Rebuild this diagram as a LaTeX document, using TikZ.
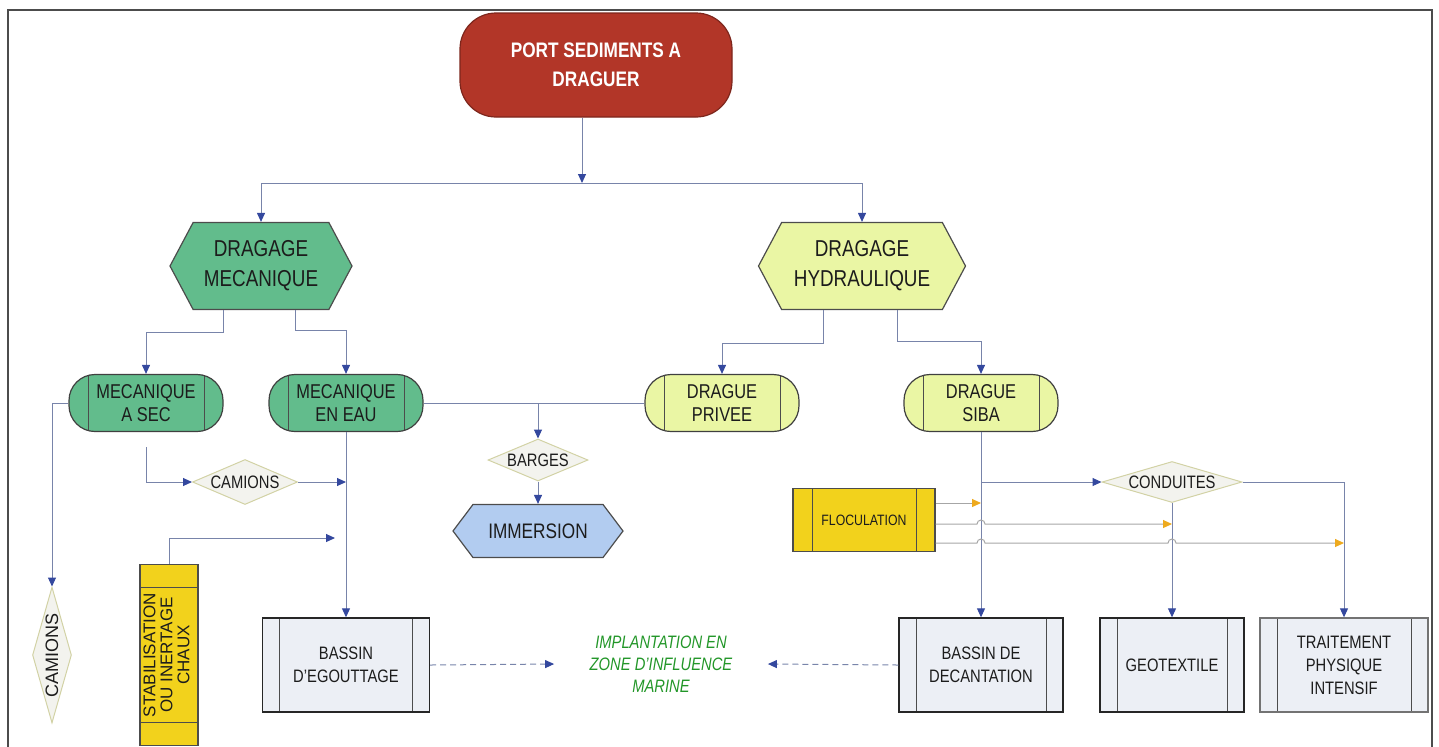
\documentclass[tikz,border=0pt]{standalone}
\usepackage{fontspec}
\setmainfont[FakeStretch=0.82]{Liberation Sans}
\newfontfamily\widesans{Liberation Sans}
\usetikzlibrary{arrows.meta,shapes.geometric,shapes.symbols}

\definecolor{portred}{RGB}{178,54,40}
\definecolor{mecgreen}{RGB}{98,188,140}
\definecolor{hydlime}{RGB}{234,246,164}
\definecolor{immblue}{RGB}{178,204,240}
\definecolor{flocyel}{RGB}{242,210,28}
\definecolor{bassgrey}{RGB}{236,239,245}
\definecolor{diafill}{RGB}{243,243,238}
\definecolor{diaedge}{RGB}{210,210,165}
\definecolor{linkblue}{RGB}{120,132,170}
\definecolor{headblue}{RGB}{52,72,158}
\definecolor{headorange}{RGB}{238,170,30}
\definecolor{marinegreen}{RGB}{34,150,40}
\definecolor{inkdark}{RGB}{28,28,28}

\begin{document}
\begin{tikzpicture}[x=0.5pt,y=-0.5pt,
  link/.style={draw=linkblue,line width=0.5pt},
  flow/.style={link,-{Triangle[length=4.5pt,width=4pt,color=headblue]}},
  flocflow/.style={draw=black!35,line width=0.5pt,-{Triangle[length=4.5pt,width=4pt,color=headorange]}},
  vbars/.style={path picture={\draw[black!70,line width=0.5pt]
      ([xshift=#1]path picture bounding box.north west) -- ([xshift=#1]path picture bounding box.south west)
      ([xshift=-#1]path picture bounding box.north east) -- ([xshift=-#1]path picture bounding box.south east);}},
  hbars/.style={path picture={\draw[black!70,line width=0.5pt]
      ([yshift=-#1]path picture bounding box.north west) -- ([yshift=-#1]path picture bounding box.north east)
      ([yshift=#1]path picture bounding box.south west) -- ([yshift=#1]path picture bounding box.south east);}},
  hexa/.style={signal,signal to=west and east,signal pointer angle=124,draw=black!70,line width=0.6pt,
    minimum height=43.5pt,inner sep=1pt,align=center,text=inkdark,font=\fontsize{11.5}{15}\selectfont},
  term/.style={rectangle,rounded corners=13pt,draw=black!75,line width=0.6pt,minimum width=77pt,
    minimum height=28.5pt,inner sep=1pt,align=center,text=inkdark,font=\fontsize{10}{11.7}\selectfont,vbars=9.5pt},
  bassin/.style={rectangle,draw=black!85,line width=0.7pt,fill=bassgrey,minimum height=47pt,inner sep=1pt,
    align=center,text=inkdark,font=\fontsize{9}{11.5}\selectfont,vbars=8.5pt},
  dia/.style={diamond,draw=diaedge,fill=diafill,line width=0.5pt,inner sep=0pt,text=inkdark,
    font=\fontsize{9}{11}\selectfont},
  yellowbox/.style={rectangle,draw=black!70,line width=0.6pt,fill=flocyel,inner sep=1pt,text=inkdark}]

  \useasboundingbox (0,0) rectangle (1439,746);
  \draw[black!70,line width=1pt] (8,760) -- (8,10) -- (1432,10) -- (1432,760);

  \node[rectangle,rounded corners=18pt,draw=portred!70!black,fill=portred,line width=0.6pt,
    minimum width=136pt,minimum height=52pt,text=white,align=center,
    font=\bfseries\fontsize{10.5}{14.5}\selectfont] (port) at (596,65) {PORT SEDIMENTS A\\DRAGUER};

  \node[hexa,fill=mecgreen,minimum width=91pt] (dmec) at (261,266) {DRAGAGE\\MECANIQUE};
  \node[hexa,fill=hydlime,minimum width=103.5pt] (dhyd) at (862,266) {DRAGAGE\\HYDRAULIQUE};

  \node[term,fill=mecgreen] (asec) at (146,403) {MECANIQUE\\A SEC};
  \node[term,fill=mecgreen] (eneau) at (346,403) {MECANIQUE\\EN EAU};
  \node[term,fill=hydlime] (privee) at (722,403) {DRAGUE\\PRIVEE};
  \node[term,fill=hydlime] (siba) at (981,403) {DRAGUE\\SIBA};

  \node[dia,aspect=2.33,minimum width=52.5pt,minimum height=22.5pt] (camh) at (245,482) {CAMIONS};
  \node[dia,aspect=2.38,minimum width=50pt,minimum height=21pt] (barges) at (538,460) {BARGES};
  \node[dia,aspect=3.41,minimum width=70pt,minimum height=20.5pt] (cond) at (1172,482) {CONDUITES};
  \node[dia,aspect=0.287,minimum width=19.5pt,minimum height=68pt,
    font=\widesans\fontsize{9}{11}\selectfont] (camv) at (52,655) {\rotatebox{90}{CAMIONS}};

  \node[hexa,fill=immblue,minimum width=85pt,minimum height=26.5pt,signal pointer angle=106,
    font=\fontsize{10.5}{12}\selectfont] (immer) at (538,531) {IMMERSION};

  \node[yellowbox,vbars=9.5pt,minimum width=71pt,minimum height=31.5pt,
    font=\fontsize{7.5}{9}\selectfont] (floc) at (864,520) {FLOCULATION};
  \node[yellowbox,hbars=11.5pt,minimum width=29pt,minimum height=90.5pt,
    font=\widesans\fontsize{8.5}{8.5}\selectfont] (stab) at (169,655)
    {\rotatebox{90}{\begin{tabular}{@{}c@{}}STABILISATION\\OU INERTAGE\\CHAUX\end{tabular}}};

  \node[bassin,minimum width=83.5pt] (egout) at (346,665) {BASSIN\\D'EGOUTTAGE};
  \node[bassin,minimum width=82pt] (decant) at (981,665) {BASSIN DE\\DECANTATION};
  \node[bassin,minimum width=72pt] (geotex) at (1172,665) {GEOTEXTILE};
  \node[bassin,minimum width=84pt,draw=black!55] (trait) at (1344,665) {TRAITEMENT\\PHYSIQUE\\INTENSIF};

  \node[font=\itshape\fontsize{9}{11}\selectfont,text=marinegreen,align=center,
    minimum width=106.5pt,inner sep=0pt] (implant) at (661,664) {IMPLANTATION EN\\ZONE D'INFLUENCE\\MARINE};

  \coordinate (bus) at (582,183);
  \coordinate (stabin) at (335,538);
  \coordinate (f1) at ([yshift=8.5pt]floc.east);
  \coordinate (f2) at ([yshift=-2pt]floc.east);
  \coordinate (f3) at ([yshift=-11.5pt]floc.east);

  \draw[flow] (port.south -| bus) -- (bus);
  \draw[flow] (bus) -| (dmec.north);
  \draw[flow] (bus) -| (dhyd.north);

  \draw[flow] ([xshift=-19pt]dmec.south) -- ++(0,22) -| (asec.north);
  \draw[flow] ([xshift=17pt]dmec.south) -- ++(0,20) -| (eneau.north);
  \draw[flow] ([xshift=-19.5pt]dhyd.south) -- ++(0,33) -| (privee.north);
  \draw[flow] ([xshift=17.5pt]dhyd.south) -- ++(0,31) -| (siba.north);

  \draw[link] (eneau.east) -- (privee.west);
  \draw[flow] (barges.north |- eneau.east) -- (barges.north);
  \draw[flow] (barges.south) -- (immer.north);

  \draw[flow] ([yshift=-7.5pt]asec.south) |- (camh.west);
  \draw[flow] (camh.east) -- (camh.east -| eneau.south);
  \draw[flow] (eneau.south) -- (egout.north);
  \draw[flow] (stab.north) |- (stabin);
  \draw[flow] (asec.west) -| (camv.north);

  \draw[flow,densely dashed] (egout.east) -- (implant.west);
  \draw[flow,densely dashed] (decant.west) -- (implant.east);

  \draw[flow] (siba.south) -- (decant.north);
  \draw[flow] (siba.south |- cond.west) -- (cond.west);
  \draw[flow] (cond.south) -- (geotex.north);
  \draw[flow] (cond.east) -| (trait.north);

  \draw[flocflow] (f1) -- (f1 -| siba.south);
  \draw[flocflow] (f2) -- ([xshift=-2pt]f2 -| siba.south) arc[start angle=180,end angle=360,radius=4]
    -- (f2 -| cond.south);
  \draw[flocflow] (f3) -- ([xshift=-2pt]f3 -| siba.south) arc[start angle=180,end angle=360,radius=4]
    -- ([xshift=-2pt]f3 -| cond.south) arc[start angle=180,end angle=360,radius=4]
    -- (f3 -| trait.north);
\end{tikzpicture}
\end{document}
